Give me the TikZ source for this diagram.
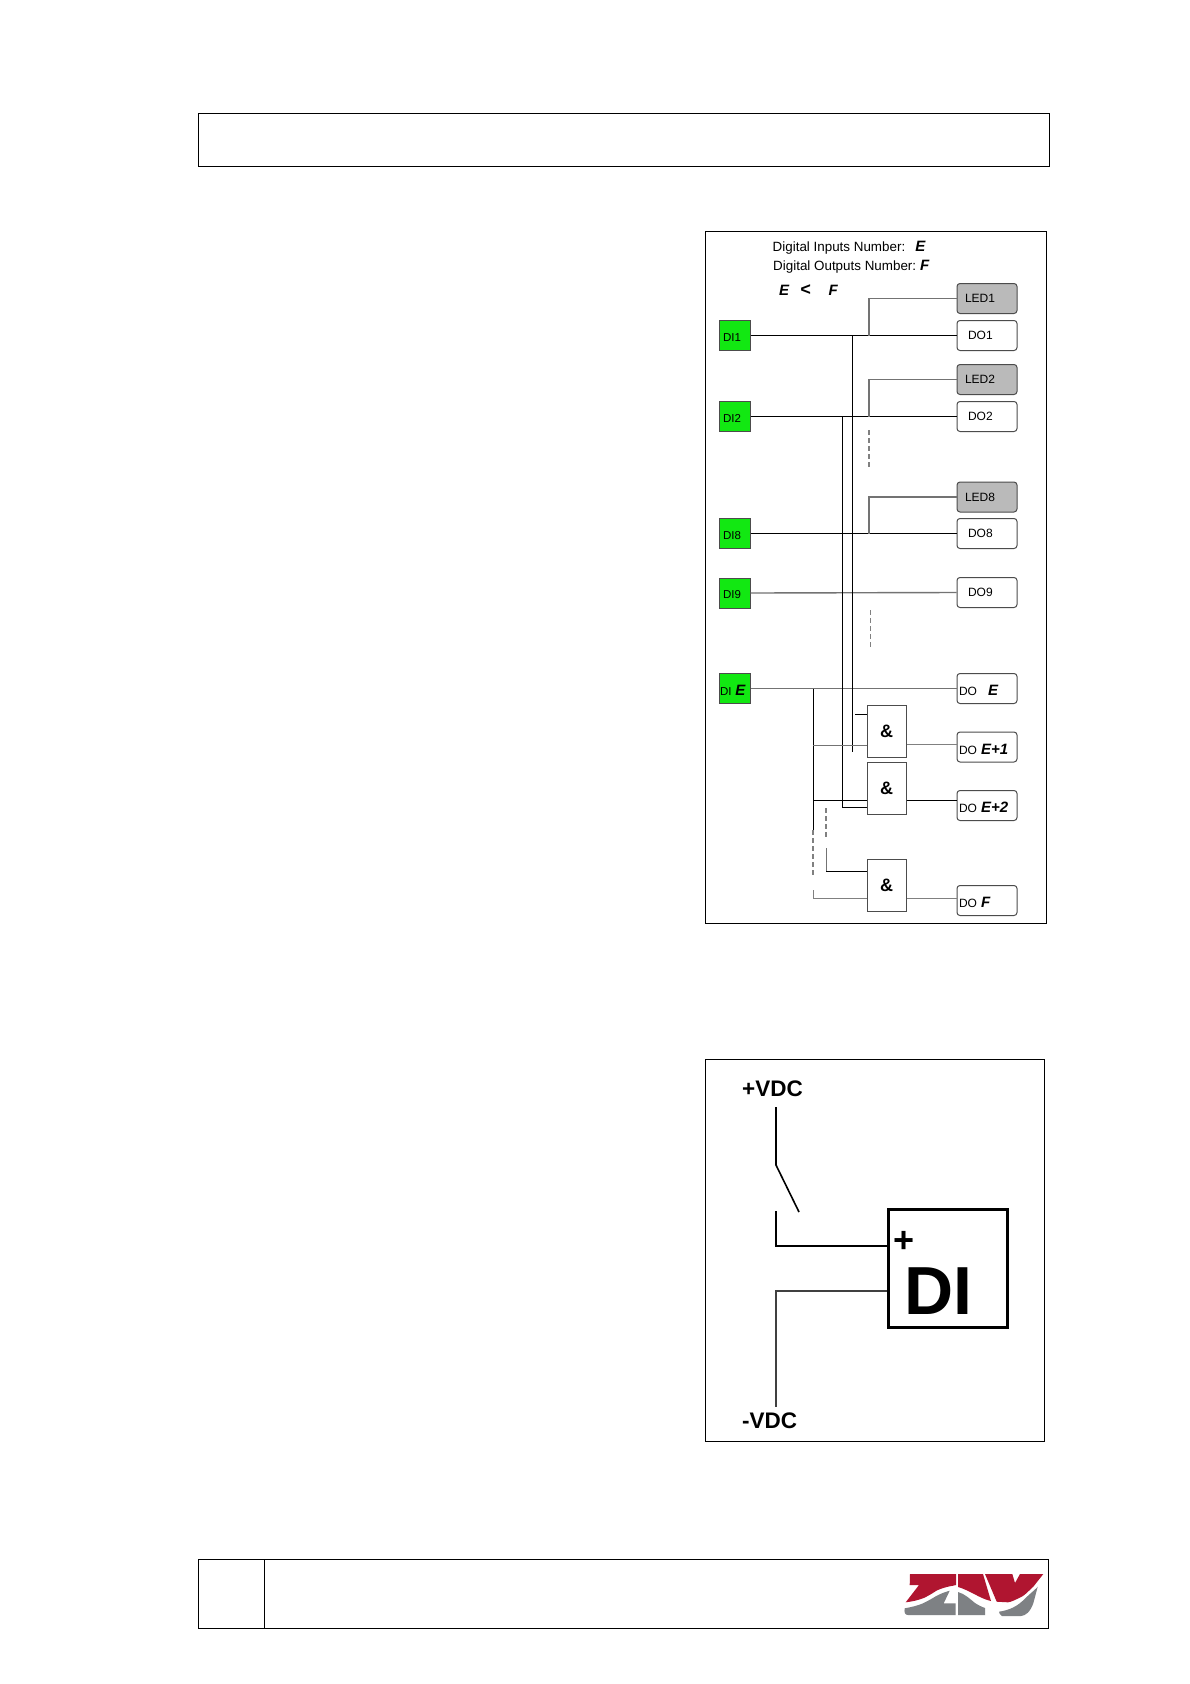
\documentclass[tikz,border=0pt]{standalone}
\usepackage{fontspec}
\setmainfont{Liberation Sans}
\definecolor{ziv}{HTML}{B01530}
\definecolor{zivg}{HTML}{7E8184}
\definecolor{digreen}{HTML}{12E812}
\tikzset{
  px/.style={x=1pt,y=-1pt},
  frame/.style={draw=black,line width=1pt,fill=none},
  wire/.style={draw=black,line width=1pt},
  gwire/.style={draw=black!55,line width=1.4pt},
  twire/.style={draw=black!50,line width=.7pt},
  dwire/.style={draw=black!50,line width=1pt,dash pattern=on 5pt off 3pt},
  dibox/.style={draw=black!70,line width=1pt,fill=digreen,minimum width=31pt,minimum height=30pt,inner xsep=4pt,text width=23pt,align=left,font=\fontsize{11.5pt}{13pt}\selectfont},
  dobox/.style={draw=black!70,line width=1pt,rounded corners=3pt,fill=white,minimum width=60pt,minimum height=30pt,inner xsep=11pt,text width=38pt,align=left,font=\fontsize{12pt}{14pt}\selectfont},
  ledbox/.style={dobox,fill=black!27,inner xsep=8pt,text width=44pt,font=\fontsize{12pt}{14pt}\selectfont},
  dolab/.style={dobox,inner xsep=2pt,text width=56pt},
  gate/.style={draw=black!70,line width=1pt,minimum width=39pt,minimum height=52pt,font=\bfseries\fontsize{18pt}{20pt}\selectfont},
  hdr/.style={inner sep=0pt,anchor=base west,font=\fontsize{13.4pt}{15pt}\selectfont},
  vdc/.style={inner sep=0pt,anchor=base west,font=\bfseries\fontsize{22.5pt}{24pt}\selectfont},
  logored/.style={fill=ziv,draw=none},
  loggray/.style={fill=zivg,draw=none}
}
\newcommand{\bi}[1]{{\bfseries\itshape\fontsize{15pt}{16pt}\selectfont #1}}
\newcommand{\dn}[1]{\raisebox{-7.200pt}[0pt][0pt]{#1}}
\newcommand{\dnn}[1]{\raisebox{-5.500pt}[0pt][0pt]{#1}}
\begin{document}
\begin{tikzpicture}[px]
\useasboundingbox (0,0) rectangle (1190,1684);
\fill[white] (0,0) rectangle (1190,1684);
% page boxes
\draw[frame] (198,113) rectangle (1049,166);
\draw[frame] (198,1559) rectangle (1048,1628);
\draw[frame] (264,1559) -- (264,1628);
% frames
\draw[frame] (705,231) rectangle (1046.500,923);
\draw[frame] (705,1059) rectangle (1044,1441);
% header
\node[hdr] (h1) at (772.500,251) {Digital Inputs Number:\kern 10pt\bi{E}};
\node[hdr] (h2) at (773,270.500) {Digital Outputs Number:\kern 4pt\bi{F}};
\node[hdr] (h3) at (779,295.500) {\bi{E}\kern 11pt{\bfseries\itshape\fontsize{18pt}{18pt}\selectfont <}\kern 18pt\bi{F}};
% inputs
\node[dibox] (di1) at (734.500,335.500) {\dnn{DI1}};
\node[dibox] (di2) at (734.500,416.500) {\dnn{DI2}};
\node[dibox] (di8) at (734.500,533.500) {\dnn{DI8}};
\node[dibox] (di9) at (734.500,593) {\dnn{DI9}};
\node[dibox,inner xsep=1pt,text width=29pt] (die) at (734.500,688.500) {\dn{DI \bi{E}}};
% outputs
\node[ledbox] (led1) at (987,298.500) {LED1};
\node[dobox] (do1) at (987,335.500) {DO1};
\node[ledbox] (led2) at (987,379.500) {LED2};
\node[dobox] (do2) at (987,416.500) {DO2};
\node[ledbox] (led8) at (987,497) {LED8};
\node[dobox] (do8) at (987,533.500) {DO8};
\node[dobox] (do9) at (987,592.500) {DO9};
\node[dolab] (doe) at (987,688.500) {\dn{DO\kern 11pt\bi{E}}};
\node[dolab] (doe1) at (987,747) {\dn{DO \bi{E+1}}};
\node[dolab] (doe2) at (987,805.500) {\dn{DO \bi{E+2}}};
\node[dolab] (dof) at (987,900.500) {\dn{DO \bi{F}}};
% gates
\node[gate] (g1) at (886.500,731.500) {\&};
\node[gate] (g2) at (886.500,788) {\&};
\node[gate] (g3) at (886.500,885) {\&};
% junctions
\coordinate (j1) at (852,335.500);
\coordinate (j1b) at (852,752);
\coordinate (j1c) at (855,714);
\coordinate (j2) at (842,416.500);
\coordinate (j2b) at (842,807);
\coordinate (c1) at (813,688.500);
\coordinate (c2) at (813,830);
\coordinate (c3) at (813,875);
\coordinate (c4) at (813.500,890);
\coordinate (c5) at (813.500,898);
\coordinate (d1) at (826,808);
\coordinate (d2) at (826,837);
\coordinate (d3) at (826,848);
\coordinate (d4) at (826,871);
% main wires
\draw[wire] (di1.east) -- (do1.west);
\draw[wire] (di2.east) -- (do2.west);
\draw[wire] (di8.east) -- (do8.west);
\draw[gwire] (di9.east) -- (do9.west);
\draw[gwire] (die.east) -- (doe.west);
% led branches
\draw[gwire] (led1.west) -| (869,335.500);
\draw[gwire] (led2.west) -| (869,416.500);
\draw[gwire] (led8.west) -| (869,533.500);
\draw[dwire,line width=1.2pt] (869,430) -- (869,467);
\draw[dwire,line width=.7pt] (870,610) -- (870,647);
% buses
\draw[wire] (j1) -- (j1b);
\draw[wire] (j1c) -- (j1c -| g1.west);
\draw[wire] (j2) -- (j2b) -- (j2b -| g2.west);
\draw[wire] (c1) -- (c2);
\draw[dwire,line width=1.2pt] (c2) -- (c3);
\draw[twire] (c4) -- (c5) -- (c5 -| g3.west);
\draw[gwire,line width=1pt] (813,745) -- (867,745);
\draw[wire] (813,800) -- (867,800);
\draw[dwire,line width=1.2pt] (d1) -- (d2);
\draw[gwire,line width=1pt] (d3) -- (d4);
\draw[wire] (d4) -- (d4 -| g3.west);
\draw[twire] (g1.east |- 0,744) -- (doe1.west |- 0,744);
\draw[wire] (g2.east |- 0,800) -- (doe2.west |- 0,800);
\draw[twire] (g3.east |- 0,898) -- (dof.west |- 0,898);
% second diagram
\node[vdc] (pv) at (742,1096) {+VDC};
\node[vdc] (mv) at (742,1428) {-VDC};
\node[draw=black,line width=3.5pt,minimum width=119pt,minimum height=118pt,inner sep=0pt] (dib) at (948,1268.500) {};
\node[inner sep=0pt,anchor=base west,font=\bfseries\fontsize{68pt}{70pt}\selectfont] (dit) at (904,1314) {DI};
\node[inner sep=0pt,anchor=center,font=\bfseries\fontsize{36pt}{36pt}\selectfont] (plus) at (904.500,1242) {+};
\coordinate (s1) at (776,1107);
\coordinate (s2) at (776,1165);
\coordinate (s3) at (799,1212);
\coordinate (s4) at (776,1211);
\coordinate (s5) at (776,1246);
\coordinate (s6) at (776,1291);
\coordinate (s7) at (776,1407);
\draw[draw=black,line width=1.6pt] (s1) -- (s2) -- (s3);
\draw[draw=black,line width=1.6pt] (s4) -- (s5) -- (s5 -| dib.west);
\draw[draw=black!75,line width=1.6pt] (s6 -| dib.west) -- (s6) -- (s7);
% logo
\fill[logored] (910,1574) -- (956,1574) -- (956,1585) -- (953,1585.700) .. controls (945,1587) and (940,1589) .. (936.300,1590.700) .. controls (930,1595) and (925,1597.500) .. (923,1598.300) .. controls (917,1600.500) and (912,1601.500) .. (905.700,1602.300) -- (919,1585) -- (909.700,1585) -- cycle;
\fill[logored] (958,1574) -- (983,1574) -- (991,1601) .. controls (982,1599) and (975,1594) .. (966,1590) .. controls (963,1588.500) and (960,1587.500) .. (958,1587) -- cycle;
\fill[logored] (985,1574) -- (1012.300,1574) -- (1015,1583) -- (1020,1574) -- (1043.300,1574) -- (1033.300,1586.700) .. controls (1028,1591.500) and (1025,1595) .. (1021.700,1596.700) .. controls (1015,1600) and (1011,1602) .. (1008,1602.300) -- (996.700,1601.700) -- cycle;
\fill[loggray] (904.700,1608.300) .. controls (912,1607) and (918,1605.500) .. (923,1603.300) .. controls (928,1601) and (932,1598.500) .. (936.300,1596) .. controls (941,1593.500) and (945,1592) .. (949.700,1590.700) -- (943.700,1603.300) -- (955.700,1603.300) -- (955.700,1615) -- (908,1615) .. controls (904.700,1615) and (904,1612) .. (904.700,1608.300) -- cycle;
\fill[loggray] (958,1592) .. controls (965,1594) and (970,1599) .. (975,1603) .. controls (978,1605) and (982,1607) .. (985,1608) -- (985,1615) -- (958,1615) -- cycle;
\fill[loggray] (999,1611.700) .. controls (1010,1610) and (1018,1606) .. (1025,1598.500) .. controls (1032,1592) and (1038,1587) .. (1037.700,1586.700) -- (1033.300,1603.300) .. controls (1030,1612) and (1026,1615.500) .. (1021,1616) -- (1002,1616) .. controls (1000,1615) and (999,1613) .. (999,1611.700) -- cycle;
\end{tikzpicture}
\end{document}
